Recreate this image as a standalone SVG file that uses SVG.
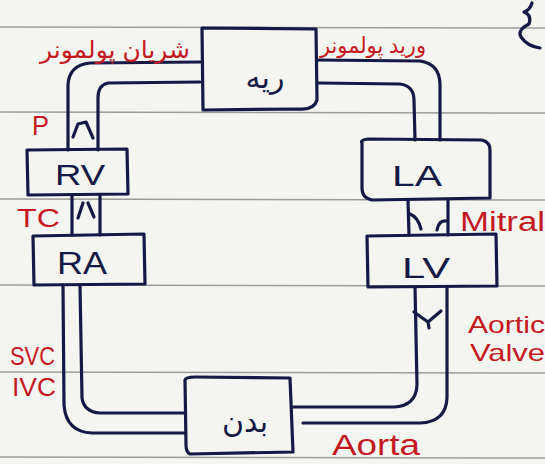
<svg xmlns="http://www.w3.org/2000/svg" width="545" height="464" viewBox="0 0 545 464">
<style>
.rule{stroke:#9c9c9c;stroke-width:1.5;fill:none}
.ink{stroke:#141a45;stroke-width:3.2;fill:none;stroke-linecap:round;stroke-linejoin:round}
.box{stroke:#141a45;stroke-width:3.2;fill:none;stroke-linejoin:round}
.lbl{font-family:"Liberation Sans","DejaVu Sans",sans-serif;fill:#141a45;text-anchor:middle}
.fa{font-family:"DejaVu Sans","Noto Sans",sans-serif}
.red{font-family:"Liberation Sans","DejaVu Sans",sans-serif;fill:#c41a1f}
</style>
<rect width="545" height="464" fill="#f4f4f1"/>
<g id="paper">
<line class="rule" x1="0" y1="27" x2="545" y2="28"/>
<line class="rule" x1="0" y1="112" x2="545" y2="113"/>
<line class="rule" x1="0" y1="199" x2="545" y2="200"/>
<line class="rule" x1="0" y1="285" x2="545" y2="286"/>
<line class="rule" x1="0" y1="372" x2="545" y2="373"/>
<line class="rule" x1="0" y1="457" x2="545" y2="458"/>
<path class="ink" d="M532,3 Q530,10 524,12 Q532,15 529,24 Q517,30 521,37 Q527,46 540,48"/>
</g>
<g id="connectors">
<path class="ink" d="M200,62 L90,63 Q69,65 68,85 L68,150"/>
<path class="ink" d="M200,82 L108,83 Q98,85 98,98 L98,150"/>
<path class="ink" d="M73,137 L78,124 L86,122 L93,138"/>
<path class="ink" d="M72,195 L72,235 M100,195 L100,235"/>
<path class="ink" d="M78,218 L83,203 M88,203 L94,217"/>
<path class="ink" d="M63,285 L64,405 Q66,432 92,433 L185,433"/>
<path class="ink" d="M80,285 L82,398 Q84,412 100,413 L185,413"/>
<path class="ink" d="M317,60 L420,61 Q440,64 440,85 L440,140"/>
<path class="ink" d="M318,83 L400,84 Q414,86 414,100 L415,140"/>
<path class="ink" d="M408,200 L409,235 M448,200 L448,235"/>
<path class="ink" d="M410,214 Q418,217 421,229 M437,230 Q439,220 446,221"/>
<path class="ink" d="M415,287 L417,385 Q416,406 394,407 L293,407"/>
<path class="ink" d="M447,287 L447,398 Q446,422 420,423 L303,423"/>
<path class="ink" d="M414,312 L428,322 L441,311 M428,322 L429,328"/>
</g>
<g id="lung">
<path class="box" d="M202,28 L316,29 L317,100 Q314,110 300,109 L203,110 Z"/>
<text class="lbl fa" x="265" y="88" font-size="30">ریه</text>
</g>
<g id="rv">
<path class="box" d="M27,150 L127,149 L128,194 L28,195 Z"/>
<text class="lbl" x="80" y="185" font-size="30" textLength="50" lengthAdjust="spacingAndGlyphs">RV</text>
</g>
<g id="ra">
<path class="box" d="M33,236 L144,234 L145,284 L34,285 Z"/>
<text class="lbl" x="82" y="274" font-size="31" textLength="50" lengthAdjust="spacingAndGlyphs">RA</text>
</g>
<g id="la">
<path class="box" d="M362,143 Q360,140 368,139 L482,140 Q490,142 490,150 L490,198 L372,200 Q362,198 362,188 Z"/>
<text class="lbl" x="417" y="186" font-size="30" textLength="50" lengthAdjust="spacingAndGlyphs">LA</text>
</g>
<g id="lv">
<path class="box" d="M367,236 L496,234 L497,286 L368,287 Z"/>
<text class="lbl" x="426" y="278" font-size="30" textLength="48" lengthAdjust="spacingAndGlyphs">LV</text>
</g>
<g id="body">
<path class="box" d="M185,380 Q186,377 195,377 L290,378 L293,452 L190,454 Q186,452 186,445 Z"/>
<text class="lbl fa" x="245" y="432" font-size="30">بدن</text>
</g>
<g id="labels">
<text class="red fa" x="115" y="58" font-size="24" text-anchor="middle" textLength="150" lengthAdjust="spacingAndGlyphs">شریان پولمونر</text>
<text class="red fa" x="373" y="53" font-size="22" text-anchor="middle" textLength="106" lengthAdjust="spacingAndGlyphs">ورید پولمونر</text>
<text class="red" x="32" y="135" font-size="27" textLength="17" lengthAdjust="spacingAndGlyphs">P</text>
<text class="red" x="17" y="227" font-size="26" textLength="43" lengthAdjust="spacingAndGlyphs">TC</text>
<text class="red" x="460" y="231" font-size="27" textLength="85" lengthAdjust="spacingAndGlyphs">Mitral</text>
<text class="red" x="468" y="333" font-size="24" textLength="77" lengthAdjust="spacingAndGlyphs">Aortic</text>
<text class="red" x="470" y="361" font-size="24" textLength="75" lengthAdjust="spacingAndGlyphs">Valve</text>
<text class="red" x="10" y="365" font-size="26" textLength="45" lengthAdjust="spacingAndGlyphs">SVC</text>
<text class="red" x="12" y="396" font-size="26" textLength="44" lengthAdjust="spacingAndGlyphs">IVC</text>
<text class="red" x="332" y="455" font-size="29" textLength="88" lengthAdjust="spacingAndGlyphs">Aorta</text>
</g>
</svg>
